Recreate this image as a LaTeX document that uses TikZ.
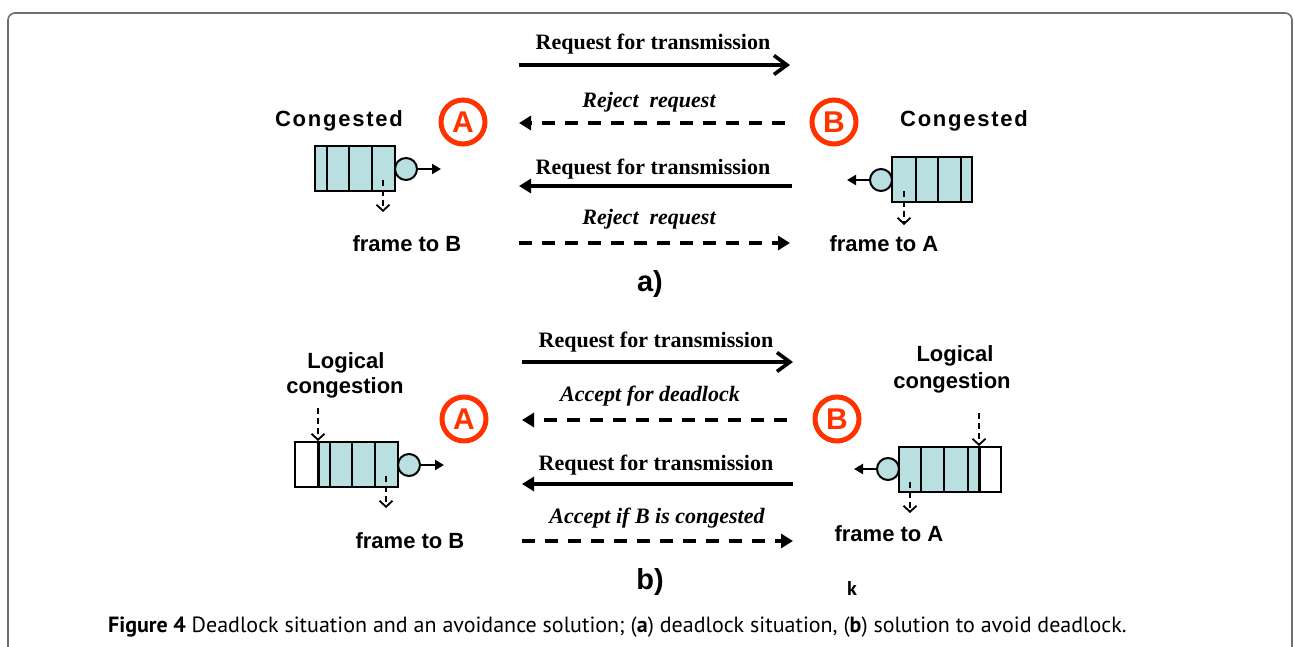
\documentclass[tikz,border=0pt]{standalone}
\usepackage{fontspec}
\setmainfont{Liberation Serif}
\setsansfont{Liberation Sans}
\newfontfamily\capfont{PT Sans}
\newfontfamily\congfont[LetterSpace=8]{Liberation Sans}
\usetikzlibrary{arrows.meta}
\definecolor{qfill}{RGB}{185,223,224}
\definecolor{circred}{RGB}{255,51,0}
\definecolor{framegray}{RGB}{110,110,110}
\begin{document}
\begin{tikzpicture}[x=1pt,y=-1pt,
  msg/.style={font=\fontsize{22}{24}\selectfont\bfseries,anchor=base,inner sep=0pt},
  msgit/.style={font=\fontsize{22}{24}\selectfont\bfseries\itshape,anchor=base,inner sep=0pt},
  lab/.style={font=\sffamily\fontsize{22}{24}\selectfont\bfseries,anchor=base,inner sep=0pt},
  cong/.style={font=\congfont\fontsize{22}{24}\selectfont\bfseries,anchor=base,inner sep=0pt},
  part/.style={font=\sffamily\fontsize{29}{30}\selectfont\bfseries,inner sep=0pt},
  station/.style={circle,draw=circred,line width=5pt,minimum size=44pt,inner sep=0pt,text=circred,font=\sffamily\fontsize{30}{30}\selectfont\bfseries},
  solidarr/.style={line width=4pt,-{Triangle[length=12pt,width=14pt]}},
  openarr/.style={line width=3.6pt,-{Straight Barb[length=13pt,width=19pt]}},
  dasharr/.style={line width=4pt,dash pattern=on 13pt off 10pt,-{Triangle[length=12pt,width=14pt]}},
  qbox/.style={draw,line width=2pt},
  qthick/.style={draw,line width=3pt},
  qcirc/.style={circle,draw,fill=qfill,line width=2pt,minimum size=22pt,inner sep=0pt},
  outarr/.style={line width=2.2pt,-{Triangle[length=9pt,width=10pt]}},
  fdash/.style={line width=1.8pt,dash pattern=on 6pt off 4pt,-{Straight Barb[length=6pt,width=13pt]}}
]
\useasboundingbox (0,0) rectangle (1294,647);
% frame
\draw[framegray,line width=1.6pt,rounded corners=7pt] (8,647) -- (8,13) -- (1292,13) -- (1292,647);

% ---------- part a ----------
\node[station] (sa1) at (463,122) {A};
\node[station] (sb1) at (834,122) {B};
\node[cong] (conga) at (339,126.7) {Congested};
\node[cong] (congb) at (964,126.7) {Congested};
\node[lab] (fra1) at (407,251.7) {frame to B};
\node[lab] (frb1) at (884,251.7) {frame to A};
\node[part] (pa) at (650,284) {a)};

% queue A (a)
\filldraw[qbox,fill=qfill] (315,146) rectangle (395,191);
\draw[qbox] (326.5,146) -- (326.5,191) (349,146) -- (349,191) (372,146) -- (372,191);
\node[qcirc] (qca1) at (406,169) {};
\coordinate (qca1o) at (441,169);
\draw[outarr] (qca1.east) -- (qca1o);
\coordinate (fa1s) at (383,180); \coordinate (fa1e) at (383,212);
\draw[fdash] (fa1s) -- (fa1e);

% queue B (a)
\filldraw[qbox,fill=qfill] (892,157) rectangle (972,202);
\draw[qbox] (915.5,157) -- (915.5,202) (938,157) -- (938,202) (961,157) -- (961,202);
\node[qcirc] (qcb1) at (881,180) {};
\coordinate (qcb1o) at (847,180);
\draw[outarr] (qcb1.west) -- (qcb1o);
\coordinate (fb1s) at (904,191); \coordinate (fb1e) at (904,225);
\draw[fdash] (fb1s) -- (fb1e);

% messages (a)
\node[msg] (ma1) at (653,50) {Request for transmission};
\coordinate (ma1s) at (519,65); \coordinate (ma1e) at (790,65);
\draw[openarr] (ma1s) -- (ma1e);
\node[msgit] (ma2) at (649,108) {Reject~~request};
\coordinate (ma2s) at (785,123); \coordinate (ma2e) at (519,123);
\draw[dasharr] (ma2s) -- (ma2e);
\node[msg] (ma3) at (653,175) {Request for transmission};
\coordinate (ma3s) at (792,186); \coordinate (ma3e) at (519,186);
\draw[solidarr] (ma3s) -- (ma3e);
\node[msgit] (ma4) at (649,225) {Reject~~request};
\coordinate (ma4s) at (519,243); \coordinate (ma4e) at (790,243);
\draw[dasharr] (ma4s) -- (ma4e);

% ---------- part b ----------
\node[station] (sa2) at (464,419) {A};
\node[station] (sb2) at (837,419) {B};
\node[lab] (loga) at (346,368) {Logical};
\node[lab] (cona) at (345,393) {congestion};
\node[lab] (logb) at (955,361.7) {Logical};
\node[lab] (conb) at (952,388.3) {congestion};
\node[lab] (fra2) at (410,548) {frame to B};
\node[lab] (frb2) at (889,541.7) {frame to A};
\node[part] (pb) at (650,582) {b)};
\node[font=\capfont\fontsize{20}{22}\selectfont\bfseries,anchor=base,inner sep=0pt] (kk) at (852,595) {k};

% queue A (b)
\draw[qbox] (295,442) rectangle (398,487);
\filldraw[qbox,fill=qfill] (318,442) rectangle (398,487);
\draw[qbox] (329.5,442) -- (329.5,487) (352,442) -- (352,487) (375,442) -- (375,487);
\draw[qthick] (318,442) -- (318,487);
\node[qcirc] (qca2) at (409,465) {};
\coordinate (qca2o) at (444,465);
\draw[outarr] (qca2.east) -- (qca2o);
\coordinate (fa2s) at (386,476); \coordinate (fa2e) at (386,508);
\draw[fdash] (fa2s) -- (fa2e);
\coordinate (la2s) at (318,408); \coordinate (la2e) at (318,441);
\draw[fdash] (la2s) -- (la2e);

% queue B (b)
\draw[qbox] (899,447) rectangle (1001,492);
\filldraw[qbox,fill=qfill] (899,447) rectangle (979,492);
\draw[qbox] (921,447) -- (921,492) (944,447) -- (944,492) (967.5,447) -- (967.5,492);
\draw[qthick] (979,447) -- (979,492);
\node[qcirc] (qcb2) at (888,469) {};
\coordinate (qcb2o) at (854,469);
\draw[outarr] (qcb2.west) -- (qcb2o);
\coordinate (fb2s) at (910,482); \coordinate (fb2e) at (910,513);
\draw[fdash] (fb2s) -- (fb2e);
\coordinate (lb2s) at (979,413); \coordinate (lb2e) at (979,446);
\draw[fdash] (lb2s) -- (lb2e);

% messages (b)
\node[msg] (mb1) at (656,347) {Request for transmission};
\coordinate (mb1s) at (522,362); \coordinate (mb1e) at (793,362);
\draw[openarr] (mb1s) -- (mb1e);
\node[msgit] (mb2) at (650,401.7) {Accept for deadlock};
\coordinate (mb2s) at (787,420); \coordinate (mb2e) at (522,420);
\draw[dasharr] (mb2s) -- (mb2e);
\node[msg] (mb3) at (656,470.7) {Request for transmission};
\coordinate (mb3s) at (793,484); \coordinate (mb3e) at (522,484);
\draw[solidarr] (mb3s) -- (mb3e);
\node[msgit] (mb4) at (657,523) {Accept if B is congested};
\coordinate (mb4s) at (522,541); \coordinate (mb4e) at (793,541);
\draw[dasharr] (mb4s) -- (mb4e);

% caption
\node[font=\capfont\fontsize{22}{24}\selectfont,anchor=base west,inner sep=0pt] (cap) at (108,632)
  {\textbf{Figure 4} Deadlock situation and an avoidance solution; (\textbf{a}) deadlock situation, (\textbf{b}) solution to avoid deadlock.};
\end{tikzpicture}
\end{document}
